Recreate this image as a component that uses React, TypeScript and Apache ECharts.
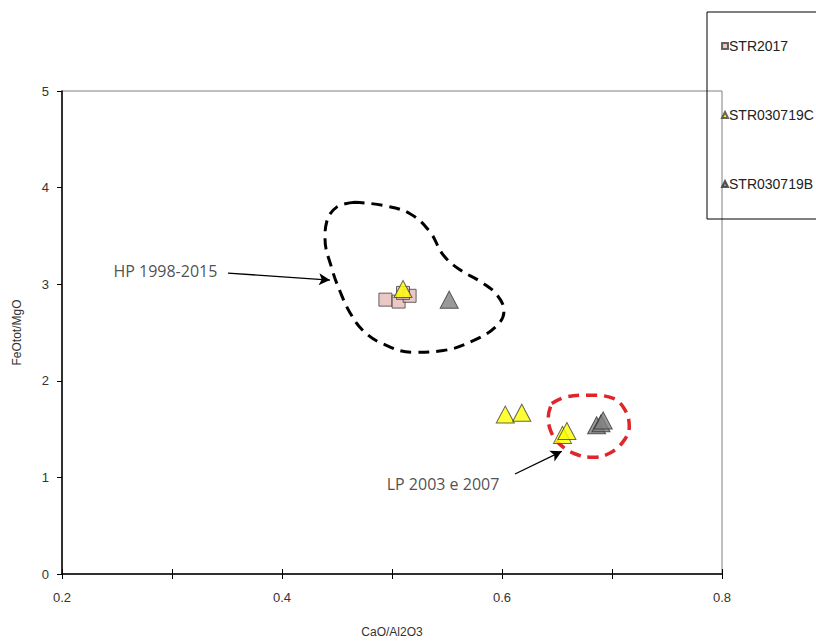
import React, { useEffect, useRef } from "react";
import * as echarts from "echarts";

// Sample series (CaO/Al2O3, FeOtot/MgO)
const seriesNames = ["STR2017", "STR030719C", "STR030719B"];
const str2017 = [
  [0.494, 2.84],
  [0.506, 2.82],
  [0.516, 2.88],
  [0.51, 2.91],
];
const str030719C = [
  [0.51, 2.95],
  [0.603, 1.65],
  [0.618, 1.67],
  [0.655, 1.44],
  [0.659, 1.48],
];
const str030719B = [
  [0.552, 2.84],
  [0.686, 1.54],
  [0.69, 1.56],
  [0.692, 1.59],
];

// Field outlines
const hpOutline = [
  [0.4664, 3.849],
  [0.4497, 3.798],
  [0.4406, 3.644],
  [0.4391, 3.473],
  [0.4452, 3.166],
  [0.4527, 2.927],
  [0.4618, 2.705],
  [0.4739, 2.517],
  [0.4921, 2.38],
  [0.5194, 2.295],
  [0.5466, 2.313],
  [0.5739, 2.415],
  [0.5952, 2.569],
  [0.6018, 2.722],
  [0.5952, 2.892],
  [0.58, 3.03],
  [0.5618, 3.149],
  [0.5466, 3.302],
  [0.5345, 3.542],
  [0.5164, 3.73],
  [0.4921, 3.815],
  [0.4664, 3.849],
];
const lpOutline = [
  [0.6452, 1.765],
  [0.6588, 1.834],
  [0.68, 1.851],
  [0.7012, 1.817],
  [0.7118, 1.698],
  [0.7157, 1.527],
  [0.7103, 1.373],
  [0.6982, 1.253],
  [0.683, 1.209],
  [0.6679, 1.237],
  [0.6527, 1.342],
  [0.6445, 1.475],
  [0.6421, 1.629],
  [0.6452, 1.765],
];

// Annotations
const annotLabels = ["HP 1998-2015", "LP 2003 e 2007"];
const annotPos = [
  [0.294, 3.135],
  [0.5464, 0.93],
];
const arrowStarts = [
  [0.3509, 3.115],
  [0.6118, 1.035],
];
const arrowEnds = [
  [0.4436, 3.043],
  [0.6543, 1.27],
];

const xMin = 0.2;
const xMax = 0.8;
const xInterval = 0.1;
const yMin = 0;
const yMax = 5;
const yInterval = 1;

export default function App() {
  const ref = useRef<HTMLDivElement>(null);

  useEffect(() => {
    document.body.style.margin = "0";
    const chart = echarts.init(ref.current!, null, { renderer: "svg" });
    const axisFont = {
      fontFamily: "'Liberation Sans', Arial, sans-serif",
      fontSize: 13,
      color: "#333333",
    };
    const annotFont = {
      fontFamily: "'Open Sans', sans-serif",
      fontSize: 16,
      color: "#222222",
    };
    chart.setOption({
      animation: false,
      backgroundColor: "#ffffff",
      grid: {
        left: 62,
        right: 94,
        top: 91,
        bottom: 63,
        show: true,
        borderColor: "#808080",
        borderWidth: 1,
      },
      legend: {
        data: seriesNames,
        orient: "vertical",
        left: 707,
        top: 12,
        itemGap: 55,
        itemWidth: 6,
        itemHeight: 6,
        padding: [27, 40, 28, 14],
        borderColor: "#000",
        borderWidth: 1,
        textStyle: {
          fontFamily: "'Liberation Sans', Arial, sans-serif",
          fontSize: 14,
          color: "#222",
          padding: [0, 0, 0, -4],
        },
      },
      xAxis: [
        {
          type: "value",
          min: xMin,
          max: xMax,
          interval: xInterval,
          name: "CaO/Al2O3",
          nameLocation: "middle",
          nameGap: 52,
          nameTextStyle: { ...axisFont, fontSize: 12 },
          splitLine: { show: false },
          axisLine: { lineStyle: { color: "#000", width: 1.5 } },
          axisTick: { length: 5, lineStyle: { color: "#000" } },
          axisLabel: {
            ...axisFont,
            margin: 17,
            formatter: (v: number) =>
              Math.round(v * 10) % 2 === 0 ? v.toFixed(1) : "",
          },
        },
        {
          type: "value",
          position: "bottom",
          min: xMin,
          max: xMax,
          interval: xInterval,
          splitLine: { show: false },
          axisLine: { show: false },
          axisTick: { inside: true, length: 5, lineStyle: { color: "#000" } },
          axisLabel: { show: false },
        },
      ],
      yAxis: {
        type: "value",
        min: yMin,
        max: yMax,
        interval: yInterval,
        name: "FeOtot/MgO",
        nameLocation: "middle",
        nameGap: 39,
        nameTextStyle: { ...axisFont, fontSize: 12 },
        splitLine: { show: false },
        axisLine: { show: true, lineStyle: { color: "#000", width: 1.5 } },
        axisTick: { show: true, length: 5, lineStyle: { color: "#000" } },
        axisLabel: { ...axisFont, margin: 13 },
      },
      series: [
        {
          name: "hp",
          type: "line",
          data: hpOutline,
          smooth: 0.4,
          showSymbol: false,
          silent: true,
          z: 1,
          lineStyle: { color: "#000", width: 3, type: [11, 7] },
        },
        {
          name: "lp",
          type: "line",
          data: lpOutline,
          smooth: 0.4,
          showSymbol: false,
          silent: true,
          z: 1,
          lineStyle: { color: "#E0252B", width: 3.5, type: [11, 7] },
        },
        {
          name: seriesNames[0],
          type: "scatter",
          data: str2017,
          symbol: "rect",
          symbolSize: 13,
          z: 3,
          itemStyle: { color: "#E6B9B8", borderColor: "#404040", borderWidth: 1 },
        },
        {
          name: seriesNames[1],
          type: "scatter",
          data: str030719C,
          symbol: "triangle",
          symbolSize: [18, 17],
          z: 4,
          itemStyle: { color: "#FFFF00", borderColor: "#404040", borderWidth: 1 },
        },
        {
          name: seriesNames[2],
          type: "scatter",
          data: str030719B,
          symbol: "triangle",
          symbolSize: [18, 17],
          z: 4,
          itemStyle: { color: "#808080", borderColor: "#333", borderWidth: 1 },
        },
        {
          name: "annot",
          type: "scatter",
          data: annotLabels.map((n, i) => ({ name: n, value: annotPos[i] })),
          symbolSize: 0,
          silent: true,
          z: 5,
          label: {
            show: true,
            position: "inside",
            formatter: "{b}",
            ...annotFont,
          },
          markLine: {
            silent: true,
            symbol: ["none", "arrow"],
            symbolSize: [9, 11],
            label: { show: false },
            lineStyle: { color: "#000", width: 1.3, type: "solid" },
            data: arrowStarts.map((s, i) => [
              { coord: s },
              { coord: arrowEnds[i] },
            ]),
          },
        },
      ],
    });
    return () => chart.dispose();
  }, []);

  return (
    <div
      ref={ref}
      style={{ position: "absolute", left: 0, top: 0, width: 816, height: 643 }}
    />
  );
}
